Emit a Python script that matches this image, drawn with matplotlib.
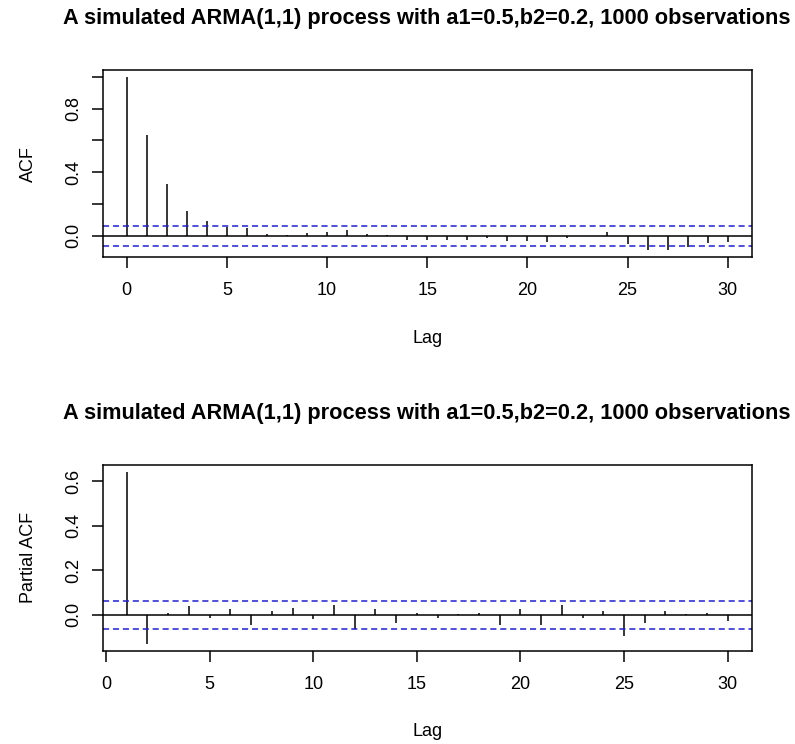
import numpy as np
import matplotlib
matplotlib.use("Agg")
import matplotlib.pyplot as plt

plt.rcParams["font.family"] = ["Liberation Sans", "DejaVu Sans"]

TITLE = "A simulated ARMA(1,1) process with a1=0.5,b2=0.2, 1000 observations"
N_OBS = 1000

acf_lags = list(range(0, 31))
acf_vals = [1.0, 0.636, 0.329, 0.159, 0.092, 0.052, 0.048, 0.010, 0.003, 0.020,
            0.023, 0.038, 0.013, 0.002, -0.025, -0.025, -0.025, -0.025, -0.015, -0.036,
            -0.030, -0.042, -0.015, 0.001, 0.023, -0.050, -0.092, -0.092, -0.071, -0.046,
            -0.042]

pacf_lags = list(range(1, 31))
pacf_vals = [0.641, -0.130, 0.007, 0.040, -0.012, 0.025, -0.046, 0.018, 0.032, -0.019,
             0.044, -0.063, 0.025, -0.038, 0.010, -0.012, 0.002, 0.010, -0.046, 0.025,
             -0.046, 0.044, -0.012, 0.018, -0.096, -0.038, 0.018, 0.003, 0.010, -0.027]

W, H = 795, 744
fig = plt.figure(figsize=(W / 100, H / 100), dpi=100)


def px_axes(left, top, right, bottom):
    return fig.add_axes([left / W, 1 - bottom / H, (right - left) / W, (bottom - top) / H])


def r_lim(lo, hi):
    # R pads the data range by 4% on each side
    pad = (hi - lo) * 0.04
    return lo - pad, hi + pad


def draw_panel(ax, lags, vals, ylabel, yticks, ylabels):
    ci = 1.96 / np.sqrt(N_OBS)
    ax.vlines(lags, 0, vals, color="black", lw=1.1)
    ax.axhline(0, color="black", lw=1.1)
    for c in (ci, -ci):
        ax.axhline(c, color="#2020c8", lw=1.1, dashes=(4, 2.5))
    ax.set_xlim(*r_lim(min(lags), max(lags)))
    ax.set_ylim(*r_lim(min(min(vals), -ci), max(vals)))
    ax.set_xticks([0, 5, 10, 15, 20, 25, 30])
    ax.set_yticks(yticks)
    ax.set_yticklabels(ylabels, rotation=90, va="center")
    ax.tick_params(direction="out", length=8, width=1.1, labelsize=13)
    ax.tick_params(axis="x", pad=10)
    ax.tick_params(axis="y", pad=7)
    for s in ax.spines.values():
        s.set_linewidth(1.1)
    ax.set_xlabel("Lag", fontsize=13, labelpad=22)
    ax.set_ylabel(ylabel, fontsize=13, labelpad=20)
    ax.set_title(TITLE, fontsize=15.7, fontweight="bold", pad=33)


ax1 = px_axes(102.7, 70, 751.7, 257.3)
draw_panel(ax1, acf_lags, acf_vals, "ACF",
           [0, 0.2, 0.4, 0.6, 0.8, 1.0], ["0.0", "", "0.4", "", "0.8", ""])

ax2 = px_axes(102.7, 465, 751.7, 650.7)
draw_panel(ax2, pacf_lags, pacf_vals, "Partial ACF",
           [0, 0.2, 0.4, 0.6], ["0.0", "0.2", "0.4", "0.6"])

fig.savefig("out.png", dpi=100, facecolor="white")
